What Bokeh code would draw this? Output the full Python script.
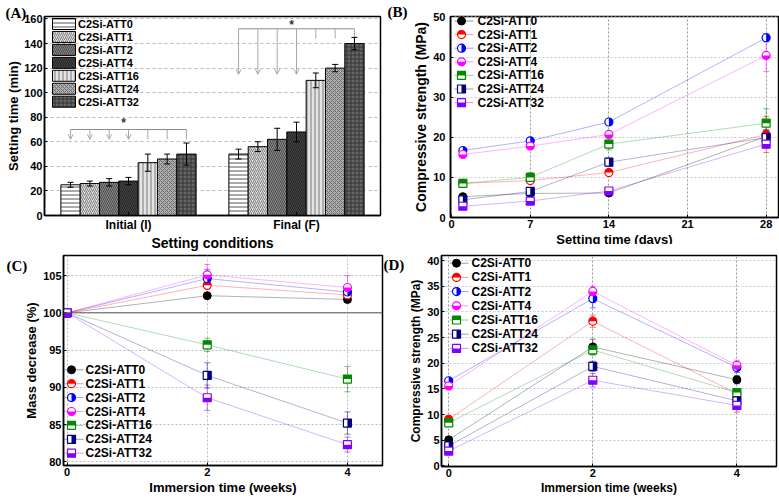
import math
from bokeh.plotting import figure
from bokeh.models import (ColumnDataSource, Range1d, FactorRange, Whisker, TeeHead,
                          Arrow, OpenHead, Label, Span)
from bokeh.core.enums import CoordinateUnits
from bokeh.transform import dodge
from bokeh.layouts import column, row
from bokeh.embed import file_html
from bokeh.resources import INLINE
from bokeh.core.properties import value

# ---------------- data ----------------
SERIES = ["C2Si-ATT0", "C2Si-ATT1", "C2Si-ATT2", "C2Si-ATT4",
          "C2Si-ATT16", "C2Si-ATT24", "C2Si-ATT32"]

# (A) setting time (min)
A_GROUPS = ["Initial (I)", "Final (F)"]
A_INITIAL = [25, 26, 27, 28, 43, 46, 50]
A_INITIAL_ERR = [2, 2, 3, 3, 7, 4, 9]
A_FINAL = [50, 56, 62, 68, 110, 120, 140]
A_FINAL_ERR = [4, 4, 9, 8, 6, 3, 5]
A_SIG_LINE = [70, 152]
A_SIG_ARROW_TIP = [62, 115]
A_SIG_TICK_END = [62, 144]
A_SIG_STAR = [75, 155]
A_YTICKS = [0, 20, 40, 60, 80, 100, 120, 140, 160]

# (B) compressive strength vs setting time
B_DAYS = [1, 7, 14, 28]
B_ATT0 = [5.2, 6.0, 6.1, 20.2]
B_ATT1 = [8.5, 9.2, 11.2, 20.7]
B_ATT2 = [16.7, 19.1, 23.8, 44.8]
B_ATT4 = [15.7, 17.8, 20.7, 40.4]
B_ATT16 = [8.5, 10.0, 18.3, 23.5]
B_ATT24 = [4.4, 6.5, 13.8, 19.9]
B_ATT32 = [2.8, 4.1, 6.6, 18.3]
B_ATT0_ERR = [0.5, 0.8, 0.6, 1.5]
B_ATT1_ERR = [0.6, 0.8, 0.8, 4.5]
B_ATT2_ERR = [0.5, 0.6, 0.6, 1.0]
B_ATT4_ERR = [0.6, 0.7, 0.8, 4.0]
B_ATT16_ERR = [0.5, 1.2, 1.5, 3.6]
B_ATT24_ERR = [0.5, 0.8, 1.0, 2.0]
B_ATT32_ERR = [0.4, 0.6, 0.6, 1.0]
B_XTICKS = [0, 7, 14, 21, 28]
B_YTICKS = [0, 10, 20, 30, 40, 50]

# (C) mass decrease vs immersion time
C_WEEKS = [0, 2, 4]
C_ATT0 = [100, 102.3, 101.8]
C_ATT1 = [100, 103.7, 102.4]
C_ATT2 = [100, 104.6, 102.8]
C_ATT4 = [100, 105.1, 103.4]
C_ATT16 = [100, 95.7, 91.1]
C_ATT24 = [100, 91.6, 85.2]
C_ATT32 = [100, 88.6, 82.3]
C_ATT0_ERR = [0, 0.3, 0.4]
C_ATT1_ERR = [0, 0.5, 0.6]
C_ATT2_ERR = [0, 1.2, 0.6]
C_ATT4_ERR = [0, 1.4, 1.6]
C_ATT16_ERR = [0, 0.9, 1.7]
C_ATT24_ERR = [0, 1.7, 1.5]
C_ATT32_ERR = [0, 1.7, 1.0]
C_XTICKS = [0, 2, 4]
C_YTICKS = [80, 85, 90, 95, 100, 105]
C_REFERENCE = 100

# (D) compressive strength vs immersion time
D_WEEKS = [0, 2, 4]
D_ATT0 = [5.1, 23.2, 16.8]
D_ATT1 = [9.1, 28.2, 14.1]
D_ATT2 = [16.6, 32.6, 19.2]
D_ATT4 = [15.6, 34.0, 19.6]
D_ATT16 = [8.4, 22.6, 14.3]
D_ATT24 = [3.9, 19.4, 12.7]
D_ATT32 = [2.9, 16.7, 11.8]
D_ATT0_ERR = [0.5, 1.5, 0.8]
D_ATT1_ERR = [0.5, 1.2, 0.8]
D_ATT2_ERR = [0.5, 1.8, 1.0]
D_ATT4_ERR = [0.5, 1.0, 1.0]
D_ATT16_ERR = [0.5, 1.0, 0.8]
D_ATT24_ERR = [0.5, 1.0, 0.8]
D_ATT32_ERR = [0.5, 1.3, 1.3]
D_XTICKS = [0, 2, 4]
D_YTICKS = [0, 5, 10, 15, 20, 25, 30, 35, 40]

B_VALUES = [B_ATT0, B_ATT1, B_ATT2, B_ATT4, B_ATT16, B_ATT24, B_ATT32]
B_ERRS = [B_ATT0_ERR, B_ATT1_ERR, B_ATT2_ERR, B_ATT4_ERR, B_ATT16_ERR, B_ATT24_ERR, B_ATT32_ERR]
C_VALUES = [C_ATT0, C_ATT1, C_ATT2, C_ATT4, C_ATT16, C_ATT24, C_ATT32]
C_ERRS = [C_ATT0_ERR, C_ATT1_ERR, C_ATT2_ERR, C_ATT4_ERR, C_ATT16_ERR, C_ATT24_ERR, C_ATT32_ERR]
D_VALUES = [D_ATT0, D_ATT1, D_ATT2, D_ATT4, D_ATT16, D_ATT24, D_ATT32]
D_ERRS = [D_ATT0_ERR, D_ATT1_ERR, D_ATT2_ERR, D_ATT4_ERR, D_ATT16_ERR, D_ATT24_ERR, D_ATT32_ERR]

# ---------------- styles ----------------
FONT = "Liberation Sans"
SERIF = "Liberation Serif"
COLORS = ["#000000", "#ff0000", "#0000ff", "#ff00ff", "#008800", "#000080", "#7f00ff"]
SHAPES = ["circle", "circle", "circle", "circle", "square", "square", "square"]
HALVES = ["full", "top", "right", "bottom", "top", "right", "bottom"]
A_STYLES = [
    dict(fill_color="white", hatch_pattern="horizontal_line", hatch_color="#555555", hatch_scale=4, hatch_weight=1),
    dict(fill_color="#dddddd", hatch_pattern="right_diagonal_line", hatch_color="#808080", hatch_scale=4, hatch_weight=1),
    dict(fill_color="#8a8a8a", hatch_pattern="left_diagonal_line", hatch_color="#4a4a4a", hatch_scale=4, hatch_weight=1),
    dict(fill_color="#262626", hatch_pattern="left_diagonal_line", hatch_color="#444444", hatch_scale=4, hatch_weight=1),
    dict(fill_color="#e4e4e4", hatch_pattern="vertical_line", hatch_color="#7a7a7a", hatch_scale=4, hatch_weight=1),
    dict(fill_color="#b0b0b0", hatch_pattern="diagonal_cross", hatch_color="#6a6a6a", hatch_scale=4, hatch_weight=1),
    dict(fill_color="#666666", hatch_pattern="cross", hatch_color="#333333", hatch_scale=4, hatch_weight=1),
]
LABEL_UNITS = "canvas" if "canvas" in CoordinateUnits else "screen"
LABEL_STYLE = dict(text_font=SERIF, text_font_style="bold", text_font_size="15px",
                   text_baseline="top", text_align="left", text_color="black")


def make_fig(fw, fh, bl, br, bt, bb, px_x=True, **kw):
    p = figure(frame_width=fw, frame_height=fh, min_border_left=bl, min_border_right=br,
               min_border_top=bt, min_border_bottom=bb, output_backend="svg",
               toolbar_location=None, tools="", **kw)
    if px_x:
        p.extra_x_ranges = {"px": Range1d(0, fw)}
    p.extra_y_ranges = {"py": Range1d(0, fh)}
    p.outline_line_color = "black"
    p.outline_line_width = 1.5
    p.outline_line_alpha = 1
    p.background_fill_color = "white"
    p.border_fill_color = "white"
    return p


def style_axes(p, xlabel, ylabel, xsize, ysize, xtick="11px", ytick="11px", title_gap=1,
               ystandoff=2):
    p.xaxis.axis_label = xlabel
    p.yaxis.axis_label = ylabel
    for ax, sz, tsz in ((p.xaxis, xsize, xtick), (p.yaxis, ysize, ytick)):
        ax.axis_label_text_font = FONT
        ax.axis_label_text_font_style = "bold"
        ax.axis_label_text_font_size = sz
        ax.axis_label_text_color = "black"
        ax.major_label_text_font = FONT
        ax.major_label_text_font_style = "bold"
        ax.major_label_text_font_size = tsz
        ax.major_label_text_color = "black"
        ax.major_tick_in = 3
        ax.major_tick_out = 0
        ax.minor_tick_in = 0
        ax.minor_tick_out = 0
        ax.axis_line_width = 1.5
        ax.major_label_standoff = 2
        ax.axis_label_standoff = title_gap
    p.yaxis.major_label_standoff = ystandoff


def draw_markers(p, xs, ys, color, shape, half, size=8, **rn):
    p.scatter(x=xs, y=ys, marker=shape, size=size, fill_color="white", line_color=None, **rn)
    if half == "full":
        p.scatter(x=xs, y=ys, marker=shape, size=size, fill_color=color, line_color=color, **rn)
        return
    if shape == "circle":
        start, end = {"top": (0, math.pi), "bottom": (math.pi, 2 * math.pi),
                      "right": (-math.pi / 2, math.pi / 2),
                      "left": (math.pi / 2, 3 * math.pi / 2)}[half]
        p.wedge(x=xs, y=ys, radius=size / 2, radius_units="screen", start_angle=start,
                end_angle=end, fill_color=color, line_color=None, **rn)
    else:
        ang = {"top": math.pi / 2, "bottom": -math.pi / 2, "right": 0, "left": math.pi}[half]
        p.ray(x=xs, y=ys, length=size / 2, length_units="screen", angle=ang,
              line_width=size, line_color=color, line_cap="butt", **rn)
    p.scatter(x=xs, y=ys, marker=shape, size=size, fill_color=None, line_color=color,
              line_width=1.2, **rn)


def series_panel(p, xs, vals, errs):
    for i in range(len(SERIES)):
        p.line(xs, vals[i], line_color=COLORS[i], line_alpha=0.3, line_width=1)
    for i in range(len(SERIES)):
        src = ColumnDataSource(dict(x=xs, upper=[v + e for v, e in zip(vals[i], errs[i])],
                                    lower=[v - e for v, e in zip(vals[i], errs[i])]))
        w = Whisker(source=src, base="x", upper="upper", lower="lower",
                    line_color=COLORS[i], line_alpha=0.5, line_width=1,
                    upper_head=TeeHead(size=6, line_color=COLORS[i], line_alpha=0.5),
                    lower_head=TeeHead(size=6, line_color=COLORS[i], line_alpha=0.5))
        p.add_layout(w)
    for i in range(len(SERIES)):
        draw_markers(p, xs, vals[i], COLORS[i], SHAPES[i], HALVES[i])


def marker_legend(p, fh, x_mk, x_txt, y_top, step, font_size):
    ys = [fh - (y_top + i * step) for i in range(len(SERIES))]
    for i in range(len(SERIES)):
        p.segment(x0=[x_mk - 7], y0=[ys[i]], x1=[x_mk + 12], y1=[ys[i]], line_color=COLORS[i],
                  line_alpha=0.4, line_width=1, x_range_name="px", y_range_name="py")
        draw_markers(p, [x_mk], [ys[i]], COLORS[i], SHAPES[i], HALVES[i],
                     x_range_name="px", y_range_name="py")
    p.text(x=[x_txt] * len(SERIES), y=ys, text=SERIES, text_font=value(FONT),
           text_font_style="bold", text_font_size=font_size, text_baseline="middle",
           text_align="left", text_color="black", x_range_name="px", y_range_name="py")


def side_label(p, txt, x, y, side):
    # a canvas-unit label kept in a side panel of figure p (not clipped to the frame)
    p.add_layout(Label(x=x, y=y, x_units=LABEL_UNITS, y_units=LABEL_UNITS, text=txt,
                       **LABEL_STYLE), side)


# ---------------- (A) ----------------
AFW, AFH = 336, 199
pA = make_fig(AFW, AFH, 44, 30, 10, 36, px_x=False, x_range=FactorRange(factors=A_GROUPS),
              y_range=Range1d(0, 162))
A_UNIT = AFW / len(A_GROUPS)   # pixels per categorical (synthetic) unit
style_axes(pA, "Setting conditions", "Setting time (min)", "14px", "13px", xtick="12px",
           title_gap=0)
pA.yaxis.ticker = A_YTICKS
pA.xgrid.visible = False
pA.ygrid.grid_line_color = "#bbbbbb"
pA.ygrid.grid_line_dash = "3 3"
BW = 0.115
OFFS = [(i - 3) * BW for i in range(len(SERIES))]
for i in range(len(SERIES)):
    src = ColumnDataSource(dict(g=A_GROUPS, top=[A_INITIAL[i], A_FINAL[i]],
                                upper=[A_INITIAL[i] + A_INITIAL_ERR[i], A_FINAL[i] + A_FINAL_ERR[i]],
                                lower=[A_INITIAL[i] - A_INITIAL_ERR[i], A_FINAL[i] - A_FINAL_ERR[i]]))
    pA.vbar(x=dodge("g", OFFS[i], range=pA.x_range), top="top", width=BW, source=src,
            line_color="black", line_width=1, **A_STYLES[i])
    w = Whisker(source=src, base=dodge("g", OFFS[i], range=pA.x_range), upper="upper",
                lower="lower", line_color="black", line_width=1,
                upper_head=TeeHead(size=6, line_width=1), lower_head=TeeHead(size=6, line_width=1))
    w.level = "annotation"
    pA.add_layout(w)

sig = ColumnDataSource(dict(g=A_GROUPS, yl=A_SIG_LINE, ya=A_SIG_ARROW_TIP, yt=A_SIG_TICK_END,
                            ys=A_SIG_STAR, star=["*", "*"]))
pA.segment(x0=dodge("g", OFFS[0], range=pA.x_range), y0="yl",
           x1=dodge("g", OFFS[-1], range=pA.x_range), y1="yl", source=sig,
           line_color="#8c8c8c", line_width=1)
for i in range(4):
    pA.add_layout(Arrow(x_start=dodge("g", OFFS[i], range=pA.x_range), y_start="yl",
                        x_end=dodge("g", OFFS[i], range=pA.x_range), y_end="ya", source=sig,
                        line_color="#a8a8a8", line_width=1,
                        end=OpenHead(size=5, line_color="#a8a8a8", line_width=1)))
for i in range(4, 7):
    pA.segment(x0=dodge("g", OFFS[i], range=pA.x_range), y0="yl",
               x1=dodge("g", OFFS[i], range=pA.x_range), y1="yt", source=sig,
               line_color="#a8a8a8", line_width=1)
pA.text(x=dodge("g", -0.03, range=pA.x_range), y="ys", text="star", source=sig,
        text_font=value(FONT), text_font_style="bold", text_font_size="12px",
        text_align="center", text_baseline="middle", text_color="#333333")

A_LEG_TOP = 7.5
for i in range(len(SERIES)):
    y = AFH - (A_LEG_TOP + i * 12.95)
    pA.rect(x=[19.5 / A_UNIT], y=[y], width=23 / A_UNIT, height=11, line_color="black",
            line_width=1, y_range_name="py", **A_STYLES[i])
pA.text(x=[33.5 / A_UNIT] * 7, y=[AFH - (A_LEG_TOP + i * 12.95) for i in range(7)],
        text=SERIES, text_font=value(FONT), text_font_style="bold", text_font_size="11px",
        text_baseline="middle", text_align="left", text_color="black",
        y_range_name="py")
side_label(pA, "(A)", 5, 4, "above")
side_label(pA, "(B)", 387, 3, "right")      # sits in the gap left of panel B

# ---------------- (B) ----------------
BFW, BFH = 328, 201
pB = make_fig(BFW, BFH, 35, 6, 9, 34, x_range=Range1d(-0.1, 29.1), y_range=Range1d(0, 50.1))
style_axes(pB, "Setting time (days)", "Compressive strength (MPa)", "13px", "14px",
           ystandoff=5)
pB.xaxis.ticker = B_XTICKS
pB.yaxis.ticker = B_YTICKS
pB.xgrid.grid_line_color = "#999999"
pB.xgrid.grid_line_dash = "2 2"
pB.ygrid.grid_line_color = "#cccccc"
pB.ygrid.grid_line_dash = "2 2"
series_panel(pB, B_DAYS, B_VALUES, B_ERRS)
marker_legend(pB, BFH, 11, 27, 4.5, 13.6, "12px")

# ---------------- (C) ----------------
CFW, CFH = 319, 210
pC = make_fig(CFW, CFH, 48, 24, 2, 32, x_range=Range1d(-0.05, 4.5), y_range=Range1d(79.5, 107.7))
style_axes(pC, "Immersion time (weeks)", "Mass decrease (%)", "13px", "13px")
pC.xaxis.ticker = C_XTICKS
pC.yaxis.ticker = C_YTICKS
for g in (pC.xgrid, pC.ygrid):
    g.grid_line_color = "#bbbbbb"
    g.grid_line_dash = "2 2"
pC.add_layout(Span(location=C_REFERENCE, dimension="width", line_color="#555555", line_width=1))
series_panel(pC, C_WEEKS, C_VALUES, C_ERRS)
marker_legend(pC, CFH, 8, 22, 114.3, 13.9, "12px")
side_label(pC, "(C)", 6, 4, "left")
side_label(pC, "(D)", 383, 3, "right")      # sits in the gap left of panel D

# ---------------- (D) ----------------
DFW, DFH = 335, 211
pD = make_fig(DFW, DFH, 32, 7, 2, 31, x_range=Range1d(-0.1, 4.55), y_range=Range1d(-0.1, 41))
style_axes(pD, "Immersion time (weeks)", "Compressive strength (MPa)", "12px", "12px")
pD.xaxis.ticker = D_XTICKS
pD.yaxis.ticker = D_YTICKS
pD.xgrid.grid_line_color = "#999999"
pD.xgrid.grid_line_dash = "2 2"
pD.ygrid.grid_line_color = "#cccccc"
pD.ygrid.grid_line_dash = "2 2"
series_panel(pD, D_WEEKS, D_VALUES, D_ERRS)
marker_legend(pD, DFH, 15, 30, 7.7, 14.2, "12px")

layout = column(row(pA, pB), row(pC, pD))
open("out.html", "w").write(file_html(layout, INLINE))
